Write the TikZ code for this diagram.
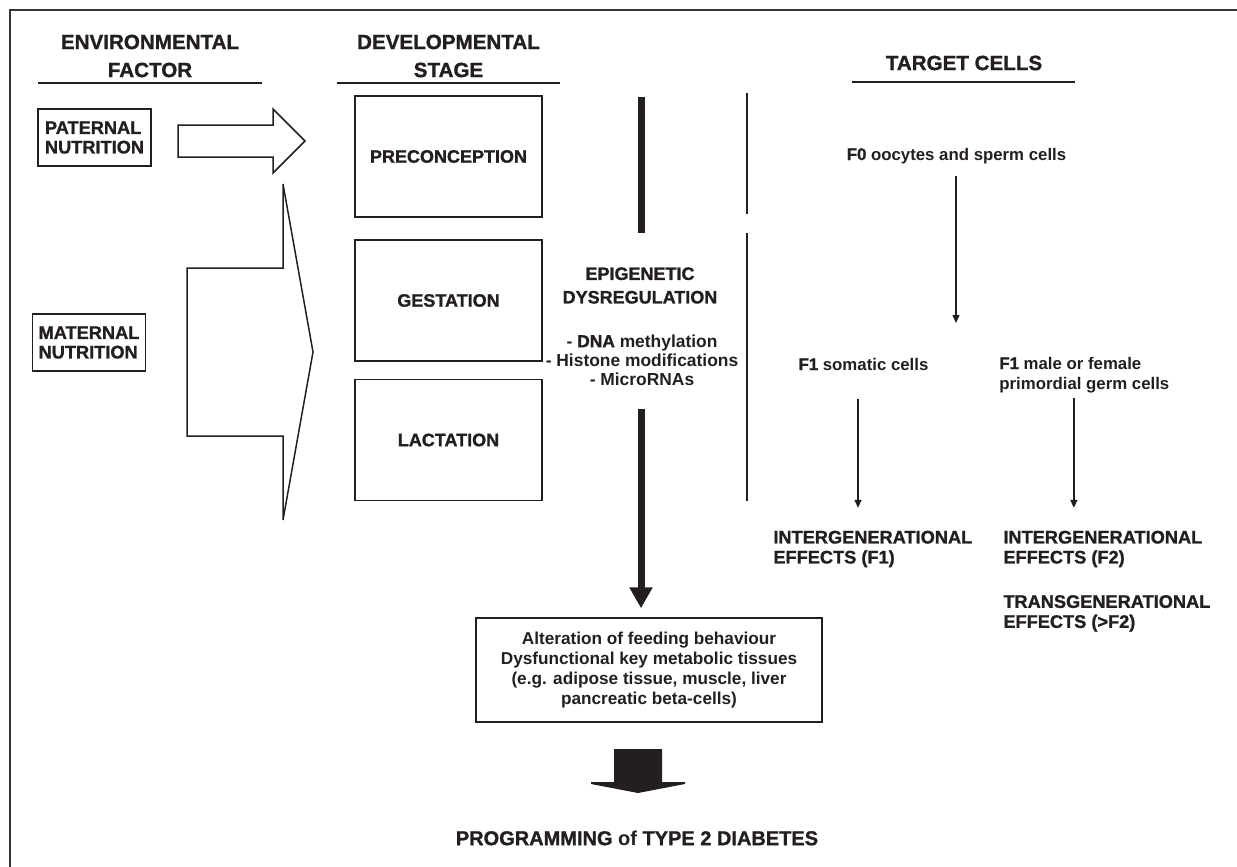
\documentclass[tikz,border=0pt]{standalone}
\usepackage{fontspec}
\setmainfont{Liberation Sans}
\newfontfamily\heavyfont{Liberation Sans}[UprightFont={* Bold},FakeBold=1.2]
\usepackage{xcolor}
\usetikzlibrary{arrows.meta}
\usetikzlibrary{calc}
\definecolor{ink}{HTML}{231F20}

\tikzset{
	every node/.style={text=ink, inner sep=0pt},
	header/.style={align=center, font=\heavyfont\fontsize{10.3}{14}\selectfont},
	factorbox/.style={draw=ink, line width=0.75pt, align=left, minimum width=56.5pt, minimum height=28.5pt, font=\heavyfont\fontsize{9.1}{9.75}\selectfont},
	stagebox/.style={draw=ink, line width=0.75pt, minimum width=93.5pt, minimum height=60.5pt, font=\heavyfont\fontsize{9}{11}\selectfont},
	celltext/.style={align=left, font=\bfseries\fontsize{8.4}{10}\selectfont},
	effect/.style={anchor=west, align=left, font=\heavyfont\fontsize{9.1}{10}\selectfont},
	thinarrow/.style={draw=ink, line width=0.6pt, -{Triangle[width=3.5pt,length=4pt]}},
	thickbar/.style={draw=ink, line width=3.5pt},
}

\begin{document}
\begin{tikzpicture}[x=50pt,y=-50pt]
		\useasboundingbox (0,0) rectangle (12.37,8.67);
		\draw[draw=ink!90, line width=1pt] (0.10,8.67) -- (0.10,0.10) -- (12.37,0.10);

		\node[header] (env) at (1.50,0.56) {ENVIRONMENTAL\\FACTOR};
		\node[header] (dev) at (4.485,0.56) {DEVELOPMENTAL\\STAGE};
		\node[header] (tgt) at (9.64,0.63) {TARGET CELLS};
		\draw[draw=ink, line width=1pt] (0.38,0.83) -- (2.62,0.83);
		\draw[draw=ink, line width=1pt] (3.37,0.83) -- (5.60,0.83);
		\draw[draw=ink, line width=1pt] (8.52,0.815) -- (10.75,0.815);

		\node[factorbox] (pat) at (0.945,1.375) {PATERNAL\\NUTRITION};
		\node[factorbox] (mat) at (0.89,3.425) {MATERNAL\\NUTRITION};
		\draw[draw=ink, line width=0.75pt] (1.78,1.25) -- (2.73,1.25) -- (2.73,1.09) -- (3.05,1.41) -- (2.73,1.73) -- (2.73,1.57) -- (1.78,1.57) -- cycle;
		\draw[draw=ink, line width=0.75pt] (2.83,1.84) -- (3.13,3.52) -- (2.83,5.20) -- (2.83,4.36) -- (1.87,4.36) -- (1.87,2.68) -- (2.83,2.68) -- cycle;

		\node[stagebox] (pre) at (4.485,1.565) {PRECONCEPTION};
		\node[stagebox] (ges) at (4.485,3.005) {GESTATION};
		\node[stagebox] (lac) at (4.485,4.40) {LACTATION};

		\draw[thickbar] (6.41,0.97) -- (6.41,2.33);
		\node[align=center, font=\heavyfont\fontsize{9}{11.75}\selectfont] (epi) at (6.40,2.855) {EPIGENETIC\\DYSREGULATION};
		\node[align=center, font=\bfseries\fontsize{8.7}{9.5}\selectfont] (marks) at (6.42,3.60) {- {\heavyfont DNA} methylation\\- Histone modifications\\- MicroRNAs};
		\node[draw=ink, line width=0.75pt, align=center, minimum width=173pt, minimum height=52pt, font=\bfseries\fontsize{8.6}{10}\selectfont] (alt) at (6.49,6.70) {Alteration of feeding behaviour\\Dysfunctional key metabolic tissues\\(e.g. adipose tissue, muscle, liver\\pancreatic beta-cells)};
		\draw[draw=ink, line width=3.5pt, -{Triangle[width=11pt,length=10.5pt]}] ($(marks.south)+(-0.01,0.23)$) -- ($(marks.south |- alt.north)+(-0.01,-0.09)$);
		\fill[ink] (6.14,7.49) -- (6.62,7.49) -- (6.62,7.82) -- (6.85,7.82) -- (6.85,7.84) -- (6.38,7.93) -- (5.91,7.84) -- (5.91,7.82) -- (6.14,7.82) -- cycle;
		\node[font=\bfseries\fontsize{10}{12}\selectfont] (prog) at (6.37,8.38) {{\heavyfont PROGRAMMING} of {\heavyfont TYPE 2 DIABETES}};

		\draw[draw=ink, line width=0.8pt] (7.47,0.93) -- (7.47,2.14);
		\draw[draw=ink, line width=0.8pt] (7.47,2.33) -- (7.47,5.01);

		\node[celltext] (f0) at (9.565,1.557) {{\heavyfont F0} oocytes and sperm cells};
		\coordinate (split) at (9.56,3.23);
		\draw[thinarrow] ($(f0.south)+(-0.005,0.125)$) -- (split);
		\node[celltext] (f1s) at (8.635,3.64) {{\heavyfont F1} somatic cells};
		\node[celltext, anchor=west] (f1g) at (9.99,3.747) {{\heavyfont F1} male or female\\primordial germ cells};

		\node[effect] (effa) at (7.73,5.49) {INTERGENERATIONAL\\EFFECTS (F1)};
		\node[effect] (effb) at (10.03,5.49) {INTERGENERATIONAL\\EFFECTS (F2)};
		\node[effect] (trans) at (10.03,6.134) {TRANSGENERATIONAL\\EFFECTS (>F2)};
		\draw[thinarrow] ($(f1s.south)+(-0.055,0.28)$) -- ($(f1s.south |- effa.north)+(-0.055,-0.225)$);
		\draw[thinarrow, line width=0.8pt] ($(f1g.south)+(-0.105,0.055)$) -- ($(f1g.south |- effb.north)+(-0.105,-0.225)$);
	\end{tikzpicture}
\end{document}
